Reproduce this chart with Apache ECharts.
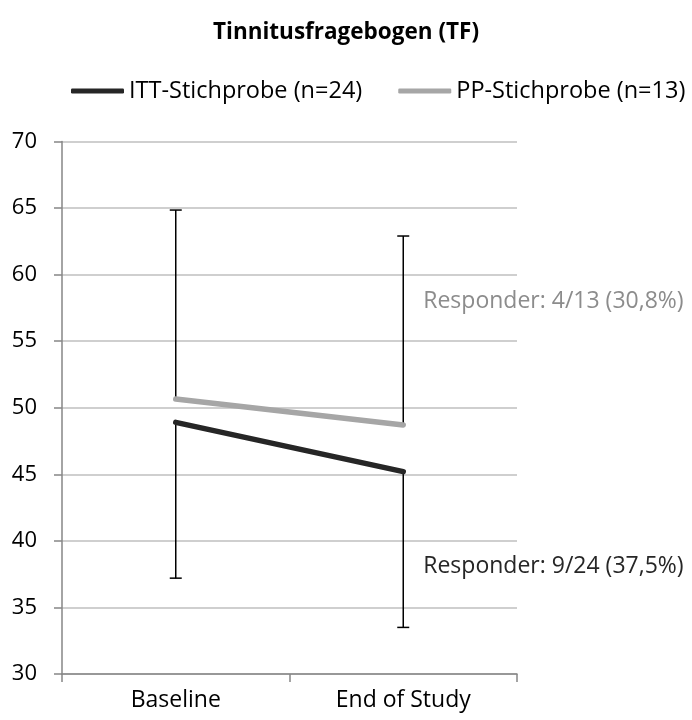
<!DOCTYPE html>
<html>
<head>
<meta charset="utf-8">
<script src="https://cdn.jsdelivr.net/npm/echarts@6/dist/echarts.min.js"></script>
<style>
html,body{margin:0;padding:0;background:#fff;}
#chart{width:692px;height:720px;}
</style>
</head>
<body>
<div id="chart"></div>
<script>
var categories = ['Baseline', 'End of Study'];
var ittMean = [48.9, 45.2];
var ppMean = [50.65, 48.7];
var ittErrMinus = [11.7, 11.7];
var ppErrPlus = [14.2, 14.2];
var seriesNames = ['ITT-Stichprobe (n=24)', 'PP-Stichprobe (n=13)'];
var yTicks = {min: 30, max: 70, interval: 5};
var annotations = [
  {text: 'Responder: 4/13 (30,8%)', cat: 1, value: 58.0, color: '#8c8c8c'},
  {text: 'Responder: 9/24 (37,5%)', cat: 1, value: 38.1, color: '#262626'}
];

var FONT = '"Open Sans", sans-serif';
var chart = echarts.init(document.getElementById('chart'));

function errData(mean, err, sign) {
  return mean.map(function (m, i) { return [i, m, m + sign * err[i]]; });
}

function renderErr(params, api) {
  var p0 = api.coord([api.value(0), api.value(1)]);
  var p1 = api.coord([api.value(0), api.value(2)]);
  var hw = 6;
  return {
    type: 'group',
    children: [
      {type: 'line', shape: {x1: p0[0], y1: p0[1], x2: p1[0], y2: p1[1]}, style: {stroke: '#000', lineWidth: 1.5}},
      {type: 'line', shape: {x1: p1[0] - hw, y1: p1[1], x2: p1[0] + hw, y2: p1[1]}, style: {stroke: '#000', lineWidth: 1.5}}
    ]
  };
}

var option = {
  animation: false,
  backgroundColor: '#fff',
  title: {
    text: 'Tinnitusfragebogen (TF)',
    left: 'center',
    top: 16,
    textStyle: {fontFamily: FONT, fontWeight: 'bold', fontSize: 22.5, color: '#000'}
  },
  legend: {
    top: 74,
    left: 66,
    itemWidth: 53,
    itemHeight: 5,
    itemGap: 36,
    icon: 'roundRect',
    textStyle: {fontFamily: FONT, fontSize: 23.5, color: '#000'},
    data: seriesNames
  },
  grid: {left: 62, right: 175, top: 141.5, bottom: 46},
  xAxis: {
    type: 'category',
    data: categories,
    boundaryGap: true,
    axisLine: {lineStyle: {color: '#868686', width: 1.5}},
    axisTick: {show: true, length: 8, lineStyle: {color: '#868686', width: 1.5}},
    axisLabel: {fontFamily: FONT, fontSize: 23, color: '#000', margin: 15}
  },
  yAxis: {
    type: 'value',
    min: yTicks.min,
    max: yTicks.max,
    interval: yTicks.interval,
    axisLine: {show: true, lineStyle: {color: '#868686', width: 1.5}},
    axisTick: {show: true, length: 8, lineStyle: {color: '#868686', width: 1.5}},
    axisLabel: {fontFamily: FONT, fontSize: 22, color: '#000', margin: 25},
    splitLine: {lineStyle: {color: '#bfbfbf', width: 1.5}}
  },
  series: [
    {
      name: seriesNames[0], type: 'line', data: ittMean,
      symbol: 'none', lineStyle: {color: '#262626', width: 5.5, cap: 'round'},
      itemStyle: {color: '#262626'}, z: 3
    },
    {
      name: seriesNames[1], type: 'line', data: ppMean,
      symbol: 'none', lineStyle: {color: '#a6a6a6', width: 5.5, cap: 'round'},
      itemStyle: {color: '#a6a6a6'}, z: 3
    },
    {
      type: 'custom', name: 'errITT', renderItem: renderErr,
      data: errData(ittMean, ittErrMinus, -1), z: 2, encode: {x: 0, y: [1, 2]}
    },
    {
      type: 'custom', name: 'errPP', renderItem: renderErr,
      data: errData(ppMean, ppErrPlus, 1), z: 2, encode: {x: 0, y: [1, 2]}
    }
  ]
};
chart.setOption(option);

var g = annotations.map(function (a) {
  var p = chart.convertToPixel({xAxisIndex: 0, yAxisIndex: 0}, [a.cat, a.value]);
  return {
    type: 'text', x: p[0] + 20, y: p[1],
    style: {text: a.text, fill: a.color, fontFamily: FONT, fontSize: 23, verticalAlign: 'middle', align: 'left'}
  };
});
chart.setOption({graphic: g});
</script>
</body>
</html>
